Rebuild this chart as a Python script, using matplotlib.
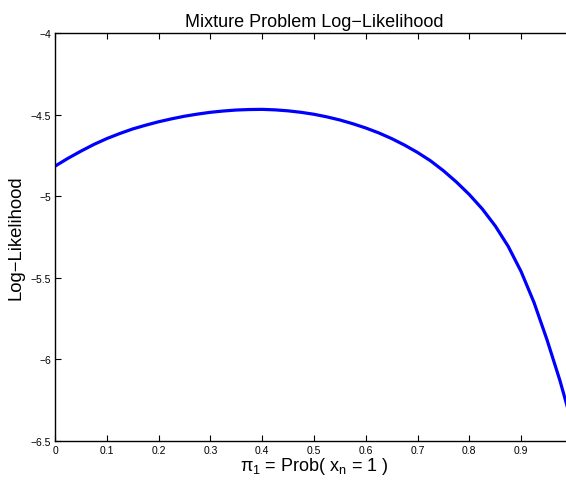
import matplotlib.pyplot as plt

# Log-likelihood
pi1 = [0.000, 0.025, 0.050, 0.075, 0.100, 0.125, 0.150, 0.175, 0.200, 0.225,
       0.250, 0.275, 0.300, 0.325, 0.350, 0.375, 0.400, 0.425, 0.450, 0.475,
       0.500, 0.525, 0.550, 0.575, 0.600, 0.625, 0.650, 0.675, 0.700, 0.725,
       0.750, 0.775, 0.800, 0.825, 0.850, 0.875, 0.900, 0.925, 0.950, 0.975,
       0.990]
loglik = [-4.816, -4.768, -4.724, -4.683, -4.647, -4.616, -4.588, -4.565, -4.544, -4.526,
          -4.510, -4.497, -4.486, -4.478, -4.472, -4.469, -4.468, -4.471, -4.477, -4.486,
          -4.498, -4.514, -4.533, -4.556, -4.582, -4.612, -4.647, -4.687, -4.732, -4.783,
          -4.844, -4.913, -4.990, -5.078, -5.182, -5.307, -5.462, -5.652, -5.880, -6.130,
          -6.300]

xticks = [0, 0.1, 0.2, 0.3, 0.4, 0.5, 0.6, 0.7, 0.8, 0.9]
xticklabels = ['0', '0.1', '0.2', '0.3', '0.4', '0.5', '0.6', '0.7', '0.8', '0.9']
yticks = [-6.5, -6, -5.5, -5, -4.5, -4]
yticklabels = ['\u22126.5', '\u22126', '\u22125.5', '\u22125', '\u22124.5', '\u22124']

plt.rcParams['font.family'] = ['Liberation Sans', 'DejaVu Sans']
plt.rcParams['mathtext.fontset'] = 'custom'
plt.rcParams['mathtext.rm'] = 'Liberation Sans'
plt.rcParams['mathtext.it'] = 'Liberation Sans'

fig = plt.figure(figsize=(5.66, 4.85), dpi=100)
ax = fig.add_axes([0.0972, 0.0887, 0.915, 0.8412])

ax.plot(pi1, loglik, color='#0000ff', linewidth=2.3)

ax.set_xlim(0, 1)
ax.set_ylim(-6.5, -4)
ax.set_xticks(xticks)
ax.set_xticklabels(xticklabels)
ax.set_yticks(yticks)
ax.set_yticklabels(yticklabels)
ax.tick_params(direction='in', length=4, width=0.8, labelsize=7.5,
               top=True, right=True, pad=3)
for s in ax.spines.values():
    s.set_linewidth(1.0)

ax.set_title('Mixture Problem Log\u2212Likelihood', fontsize=13, pad=5)
ax.set_xlabel(r'$\pi_1$ = Prob( x$_n$ = 1 )', fontsize=13, labelpad=0)
ax.set_ylabel('Log\u2212Likelihood', fontsize=13.3, labelpad=4)

fig.savefig('out.png', dpi=100)
